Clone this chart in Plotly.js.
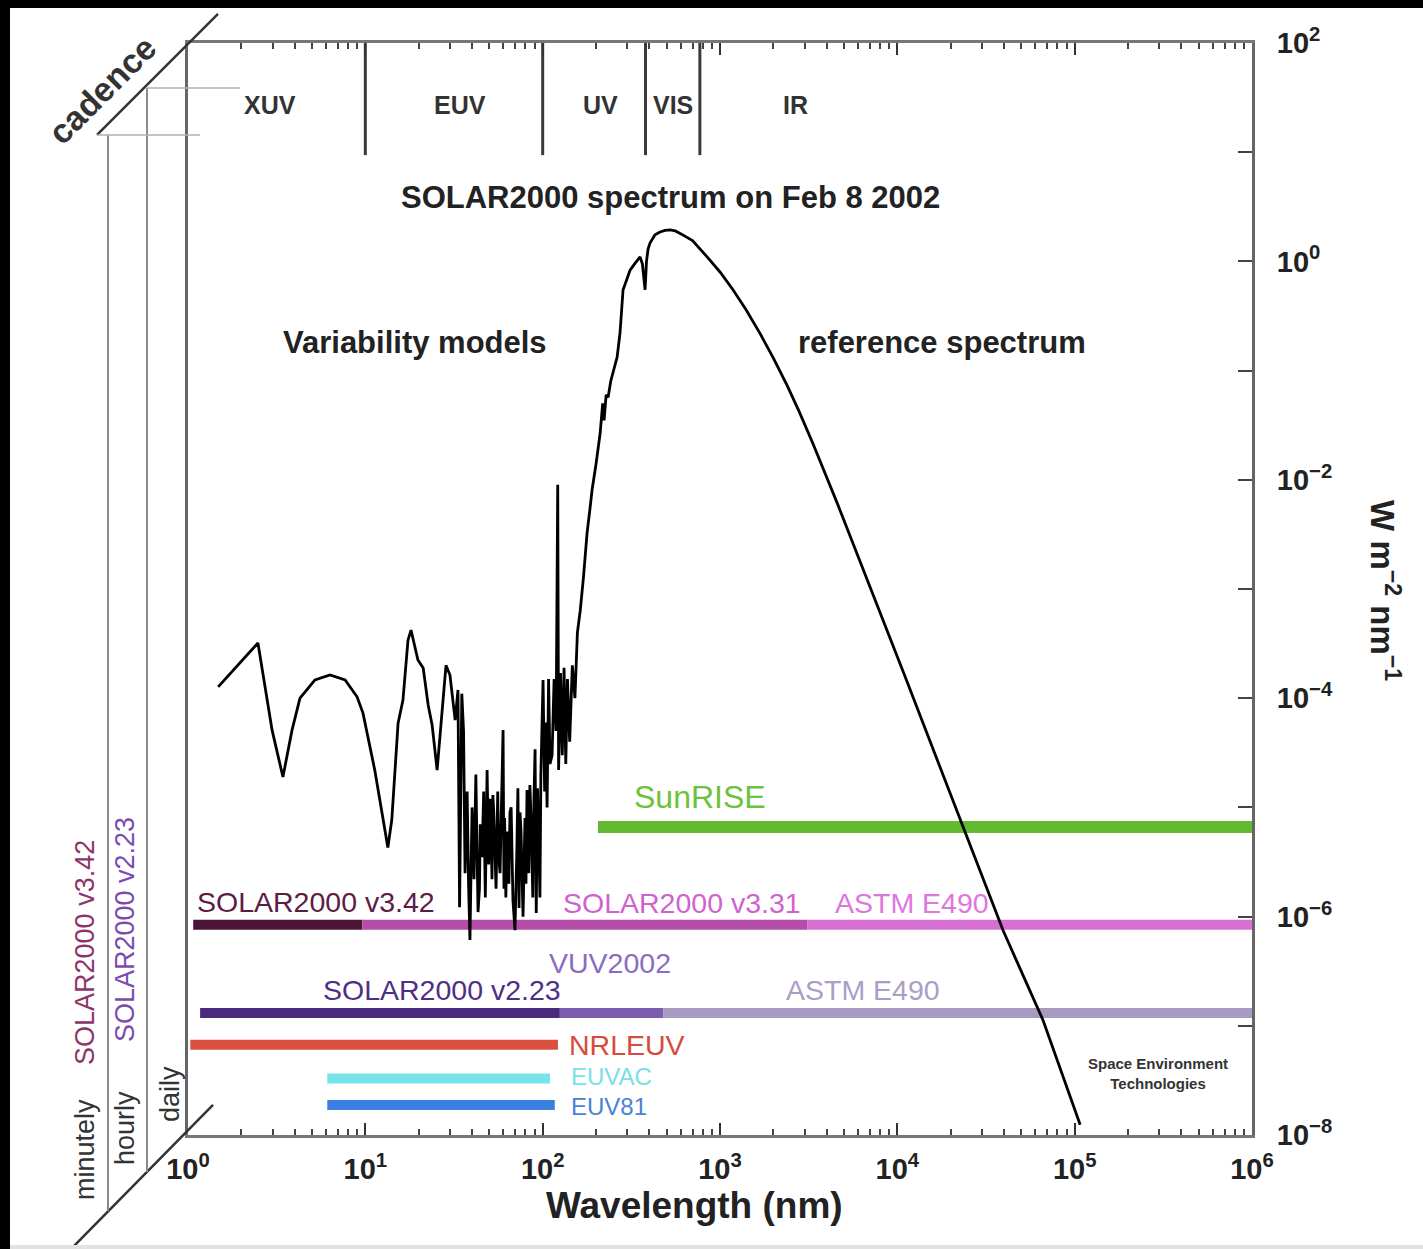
<!DOCTYPE html>
<html><head><meta charset="utf-8">
<script src="https://cdn.plot.ly/plotly-3.0.1.min.js"></script>
<style>
html,body{margin:0;padding:0;background:#000;width:1423px;height:1249px;overflow:hidden;}
#wrap{position:absolute;left:10px;top:8px;width:1413px;height:1241px;background:#e2e2e2;}
#chart{position:absolute;left:0;top:0;width:1413px;height:1237px;background:#fff;}
</style></head><body><div id="wrap"><div id="chart"></div></div>
<script>
// SOLAR2000 spectrum on Feb 8 2002: wavelength (nm) and irradiance (W m^-2 nm^-1)
const spectrumWavelength = [
  1.48, 2.48, 2.98, 3.43, 3.86, 4.28, 5.2, 6.32, 7.69, 8.98, 9.7, 11.3, 13.4, 14.1, 15.3, 16.3,
  17.4, 18.1, 19.8, 21.2, 22.6, 23.8, 25.4, 26.4, 28.5, 30.0, 32.1, 33.3, 34.0, 35.0, 35.8, 36.5,
  37.0, 37.5, 38.2, 38.9, 39.5, 40.0, 41.0, 42.0, 43.2, 44.0, 44.5, 45.5, 46.5, 47.5, 48.6, 49.6,
  50.2, 50.7, 51.8, 52.4, 53.0, 54.6, 55.8, 56.5, 57.5, 58.4, 59.8, 60.5, 61.0, 62.0, 63.0, 64.5,
  65.4, 66.4, 67.2, 68.0, 69.8, 70.6, 71.5, 72.5, 73.6, 74.5, 75.5, 77.5, 78.5, 79.5, 80.5, 81.6,
  83.5, 84.7, 86.0, 87.0, 88.0, 89.3, 90.6, 92.0, 93.5, 95.4, 96.5, 97.7, 99.0, 100.5, 102.6, 104.0,
  105.9, 108.0, 110.0, 113.0, 116.0, 119.0, 121.6, 123.0, 126.0, 129.0, 132.0, 135.0, 138.0, 142.0,
  147.0, 152.0, 157.0, 163.0, 170.0, 178.0, 185.0, 190.0, 200.0, 205.0, 211.0, 218.0, 222.0, 228.0,
  234.0, 242.0, 250.0, 263.0, 273.0, 280.0, 284.0, 295.0, 311.0, 330.0, 354.0, 365.0, 372.0, 378.0,
  385.0, 393.0, 403.0, 430.0, 459.0, 490.0, 523.0, 560.0, 620.0, 700.0, 846.0, 1000.0, 1186.0,
  1400.0, 1684.0, 2000.0, 2390.0, 2800.0, 3350.0, 4575.0, 11070.0, 24100.0, 39500.0, 66400.0, 107400.0
];
const spectrumIrradiance = [
  1.27e-4, 3.2e-4, 5.1e-5, 1.9e-5, 5.1e-5, 1.0e-4, 1.47e-4, 1.63e-4, 1.47e-4, 1.03e-4, 7.3e-5, 2.2e-5, 4.3e-6, 7.7e-6, 5.9e-5, 9.6e-5,
  3.4e-4, 4.2e-4, 2.24e-4, 1.89e-4, 8.7e-5, 5.7e-5, 2.2e-5, 4.6e-5, 2.0e-4, 1.63e-4, 6.3e-5, 1.19e-4, 1.22e-6, 1.1e-4, 5.0e-5, 2.5e-6,
  8.0e-6, 1.4e-5, 2.0e-6, 6.1e-7, 3.0e-6, 1.0e-5, 2.2e-6, 2.0e-5, 1.1e-6, 1.8e-6, 7.0e-6, 3.5e-6, 1.4e-5, 1.5e-6, 2.2e-5, 3.0e-6,
  6.0e-6, 1.2e-5, 2.2e-6, 1.3e-5, 9.0e-6, 1.8e-6, 1.4e-5, 3.5e-6, 2.5e-6, 1.2e-5, 5.1e-5, 1.8e-6, 8.0e-6, 1.5e-6, 6.0e-6, 2.0e-6,
  9.0e-6, 1.0e-5, 3.0e-6, 1.4e-6, 7.5e-7, 2.5e-6, 4.0e-6, 1.5e-5, 1.2e-6, 9.0e-6, 6.0e-6, 1.0e-6, 5.0e-6, 8.0e-6, 2.0e-6, 1.44e-5,
  2.5e-6, 1.6e-5, 8.0e-6, 3.0e-6, 1.5e-6, 1.2e-5, 3.4e-5, 1.08e-6, 1.5e-5, 4.0e-6, 1.5e-6, 2.0e-5, 6.0e-5, 1.47e-4, 1.4e-5, 6.0e-5,
  1.0e-5, 1.5e-4, 2.5e-5, 3.0e-5, 1.5e-4, 5.0e-5, 9.0e-3, 2.2e-5, 1.7e-4, 3.0e-5, 1.9e-4, 2.5e-5, 1.5e-4, 4.0e-5,
  2.0e-4, 1.0e-4, 4.0e-4, 6.4e-4, 1.3e-3, 3.26e-3, 5.5e-3, 8.1e-3, 0.014, 0.02, 0.0268, 0.05, 0.035, 0.06,
  0.057, 0.08, 0.1, 0.133, 0.221, 0.4, 0.55, 0.65, 0.83, 0.95, 1.10, 0.95, 0.7, 0.55,
  1.0, 1.3, 1.47, 1.75, 1.86, 1.92, 1.94, 1.90, 1.74, 1.55, 1.10, 0.80, 0.548,
  0.362, 0.218, 0.130, 0.0731, 0.0419, 0.0213, 0.00615, 1.57e-4, 5.96e-6, 7.45e-7, 1.12e-7, 1.24e-8
];

// Spectral regions along the top
const regionNames = ['XUV', 'EUV', 'UV', 'VIS', 'IR'];
const regionBoundaries = [10, 100, 380, 770];

// Coverage of variability models / reference spectra
const barNames = ['SunRISE', 'SOLAR2000 v3.42', 'SOLAR2000 v3.31', 'ASTM E490', 'SOLAR2000 v2.23', 'VUV2002', 'ASTM E490', 'NRLEUV', 'EUVAC', 'EUV81'];
const barStart = [205, 1.07, 9.6, 3100, 1.17, 125, 480, 1.03, 6.1, 6.1];
const barEnd   = [1e6, 9.6, 3100, 1e6, 125, 480, 1e6, 122, 110, 117];
const barLevel = [6.6e-6, 8.4e-7, 8.4e-7, 8.4e-7, 1.31e-7, 1.31e-7, 1.31e-7, 6.7e-8, 3.3e-8, 1.88e-8];

// Cadence labels on the left
const cadenceNames = ['minutely', 'hourly', 'daily'];
const cadenceModels = ['SOLAR2000 v3.42', 'SOLAR2000 v2.23'];

// Tick labels
const xTickValues = [1, 10, 100, 1e3, 1e4, 1e5, 1e6];
const xTickLabels = ['10<sup>0</sup>', '10<sup>1</sup>', '10<sup>2</sup>', '10<sup>3</sup>', '10<sup>4</sup>', '10<sup>5</sup>', '10<sup>6</sup>'];
const yTickValues = [1e-8, 1e-7, 1e-6, 1e-5, 1e-4, 1e-3, 1e-2, 1e-1, 1, 10, 100];
const yTickLabels = ['10<sup>−8</sup>', '', '10<sup>−6</sup>', '', '10<sup>−4</sup>', '', '10<sup>−2</sup>', '', '10<sup>0</sup>', '', '10<sup>2</sup>'];

// ---- styles ----
const FONT = 'Liberation Sans, Arial, Helvetica, sans-serif';
const barColors = ['#63b92f', '#4c1436', '#b44ca8', '#d86fd2', '#4b2a7d', '#7c5cae', '#a99ac2', '#d9513e', '#76e4ea', '#3b7fe0'];
const barWidths = [12, 10, 10, 10, 10, 10, 10, 10, 10, 10];
const labelColors = ['#6cc23a', '#5c1c44', '#cf62cf', '#de76de', '#4e2e86', '#8a6cc2', '#ab9dc6', '#d84a3a', '#78e0e8', '#4a82d4'];
const labelSizes = [32, 28.5, 28.5, 28.5, 28.5, 28.5, 28.5, 28.5, 24, 24];
// label placement in log10 axis units
const labelPos = [
  [2.888, -4.905, 'center'], [0.722, -5.866, 'center'], [2.786, -5.875, 'center'], [4.083, -5.875, 'center'],
  [1.433, -6.672, 'center'], [2.380, -6.425, 'center'], [3.807, -6.672, 'center'],
  [2.143, -7.176, 'left'], [2.155, -7.462, 'left'], [2.155, -7.742, 'left']
];

const traces = [];
// bars
barNames.forEach((n, i) => {
  traces.push({
    type: 'scatter', mode: 'lines', name: n, showlegend: false, hoverinfo: 'skip',
    x: [barStart[i], barEnd[i]], y: [barLevel[i], barLevel[i]],
    line: {color: barColors[i], width: barWidths[i]}
  });
});
// region boundary lines
const regTop = 100, regBottom = 9.4;
const rx = [], ry = [];
regionBoundaries.forEach(b => { rx.push(b, b, null); ry.push(regTop, regBottom, null); });
traces.push({type: 'scatter', mode: 'lines', x: rx, y: ry, showlegend: false, hoverinfo: 'skip',
  line: {color: '#3a3a3a', width: 3}});
// spectrum
traces.push({
  type: 'scatter', mode: 'lines', name: 'SOLAR2000 spectrum', showlegend: false,
  x: spectrumWavelength, y: spectrumIrradiance, line: {color: '#000', width: 2.8}
});

const xMinor = [];
for (let d = 0; d < 6; d++) for (let k = 2; k <= 9; k++) xMinor.push(k * Math.pow(10, d));

const ann = [];
const boldBig = {family: FONT, size: 31, color: '#222'};
ann.push({xref: 'x', yref: 'y', x: 2.719, y: 0.581, text: '<b>SOLAR2000 spectrum on Feb 8 2002</b>', showarrow: false, font: boldBig});
ann.push({xref: 'x', yref: 'y', x: 1.280, y: -0.747, text: '<b>Variability models</b>', showarrow: false, font: boldBig});
ann.push({xref: 'x', yref: 'y', x: 4.253, y: -0.747, text: '<b>reference spectrum</b>', showarrow: false, font: boldBig});
// region names
const regionPos = [0.4625, 1.534, 2.324, 2.735, 3.424];
regionNames.forEach((r, i) => ann.push({xref: 'x', yref: 'y', x: regionPos[i], y: 1.432, text: '<b>' + r + '</b>',
  showarrow: false, font: {family: FONT, size: 25, color: '#333'}}));
// bar labels
barNames.forEach((n, i) => ann.push({xref: 'x', yref: 'y', x: labelPos[i][0], y: labelPos[i][1], text: n,
  xanchor: labelPos[i][2], yanchor: 'middle', showarrow: false, borderpad: 0,
  font: {family: FONT, size: labelSizes[i], color: labelColors[i]}}));
// credit
ann.push({xref: 'x', yref: 'y', x: 5.471, y: -7.44, text: '<b>Space Environment<br>Technologies</b>', showarrow: false,
  font: {family: FONT, size: 15, color: '#333'}});
// y axis title on the right, reading downward
ann.push({xref: 'paper', yref: 'paper', x: 1.125, y: 0.499, xanchor: 'center', yanchor: 'middle',
  text: '<b>W m<sup>−2</sup> nm<sup>−1</sup></b>', textangle: 90,
  showarrow: false, font: {family: FONT, size: 33, color: '#222'}});
// cadence panel
ann.push({xref: 'paper', yref: 'paper', x: -0.0808, y: 0.957, xanchor: 'center', yanchor: 'middle',
  text: '<b>cadence</b>', textangle: -45, showarrow: false,
  font: {family: FONT, size: 34, color: '#333'}});
const cadPos = [[-0.0968, -0.0137], [-0.0592, 0.0064], [-0.0169, 0.0375]];
cadenceNames.forEach((c, i) => ann.push({xref: 'paper', yref: 'paper', x: cadPos[i][0], y: cadPos[i][1],
  xanchor: 'center', yanchor: 'middle', text: c,
  textangle: -90, showarrow: false, font: {family: FONT, size: 27, color: '#333'}}));
const modPos = [[-0.0968, 0.1667, '#8e3568'], [-0.0592, 0.1877, '#7b4bb0']];
cadenceModels.forEach((m, i) => ann.push({xref: 'paper', yref: 'paper', x: modPos[i][0], y: modPos[i][1],
  xanchor: 'center', yanchor: 'middle', text: m,
  textangle: -90, showarrow: false, font: {family: FONT, size: 27, color: modPos[i][2]}}));

const shapes = [
  {type: 'line', xref: 'paper', yref: 'paper', x0: -0.0855, y0: 0.9158, x1: 0.0282, y1: 1.0266, line: {color: '#333', width: 2.5}},
  {type: 'line', xref: 'paper', yref: 'paper', x0: -0.1081, y0: -0.1026, x1: 0.0235, y1: 0.0275, line: {color: '#333', width: 2.5}},
  {type: 'line', xref: 'paper', yref: 'paper', x0: -0.0752, y0: 0.9158, x1: -0.0752, y1: -0.0696, line: {color: '#8a8a8a', width: 2}},
  {type: 'line', xref: 'paper', yref: 'paper', x0: -0.0385, y0: 0.9588, x1: -0.0385, y1: -0.0339, line: {color: '#8a8a8a', width: 2}},
  {type: 'line', xref: 'paper', yref: 'paper', x0: -0.0385, y0: 0.9588, x1: 0.0489, y1: 0.9588, line: {color: '#b0b0b0', width: 1.5}},
  {type: 'line', xref: 'paper', yref: 'paper', x0: -0.0855, y0: 0.9158, x1: 0.0113, y1: 0.9158, line: {color: '#b0b0b0', width: 1.5}}
];

const layout = {
  width: 1413, height: 1237,
  margin: {l: 178, r: 171, t: 35, b: 110, pad: 0},
  paper_bgcolor: '#fff', plot_bgcolor: '#fff',
  showlegend: false, hovermode: false,
  font: {family: FONT, color: '#222'},
  xaxis: {
    type: 'log', range: [0, 6], tickmode: 'array', tickvals: xTickValues,
    ticktext: xTickLabels.map(t => '<b>' + t + '</b>'),
    ticks: 'inside', ticklen: 12, tickwidth: 2, tickcolor: '#333', ticklabelstandoff: 6,
    mirror: 'allticks', showline: true, linecolor: '#777', linewidth: 3,
    showgrid: false, zeroline: false,
    tickfont: {family: FONT, size: 29, color: '#222'},
    title: {text: '<b>Wavelength (nm)</b>&nbsp;&nbsp;&nbsp;&nbsp;&nbsp;', font: {family: FONT, size: 37, color: '#222'}, standoff: 4},
    minor: {tickmode: 'array', tickvals: xMinor, ticks: 'inside', ticklen: 6, tickwidth: 2, tickcolor: '#444', showgrid: false}
  },
  yaxis: {
    type: 'log', range: [-8, 2], side: 'right', tickmode: 'array', tickvals: yTickValues,
    ticktext: yTickLabels.map(t => t ? '<b>' + t + '</b>' : ''),
    ticks: 'inside', ticklen: 14, tickwidth: 2, tickcolor: '#444', ticklabelstandoff: 16,
    mirror: true, showline: true, linecolor: '#666', linewidth: 3,
    showgrid: false, zeroline: false,
    tickfont: {family: FONT, size: 29, color: '#222'}
  },
  annotations: ann,
  shapes: shapes
};

Plotly.newPlot('chart', traces, layout, {staticPlot: true, displayModeBar: false});
</script></body></html>
